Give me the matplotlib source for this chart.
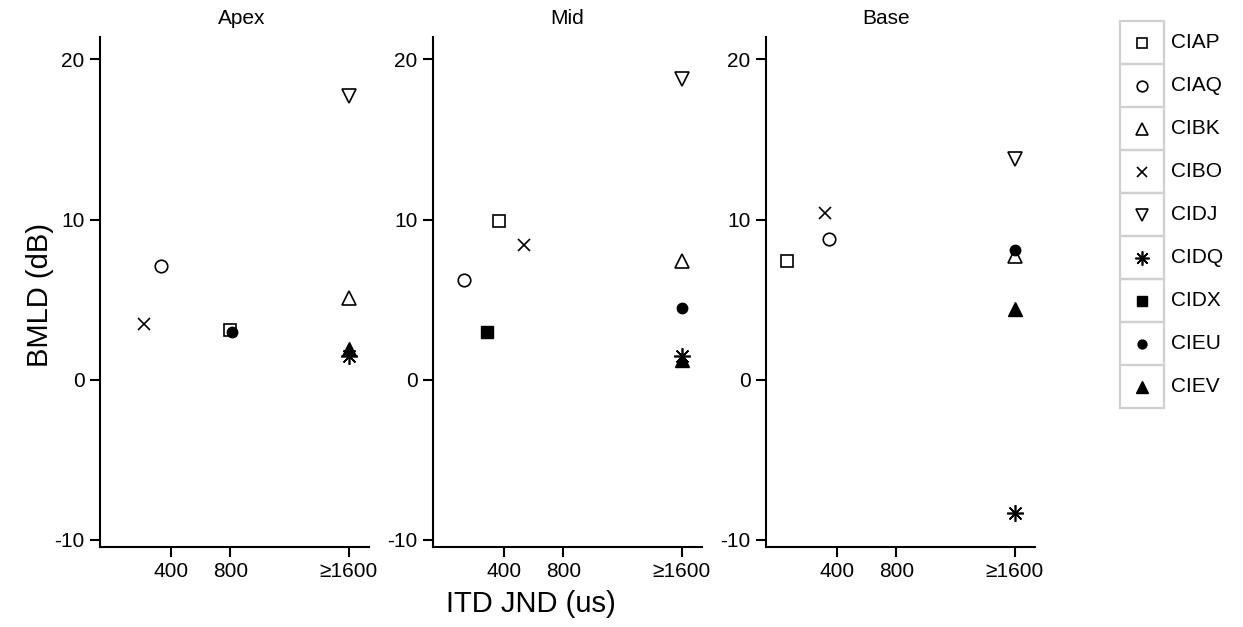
import numpy as np
import matplotlib
matplotlib.use("Agg")
import matplotlib.pyplot as plt
from matplotlib.patches import Rectangle

plt.rcParams['font.family'] = ['Liberation Sans', 'DejaVu Sans']
plt.rcParams['axes.unicode_minus'] = False

# subjects and their marker shapes (R pch 0,1,2,4,6,8,15,16,17)
subjects = ["CIAP", "CIAQ", "CIBK", "CIBO", "CIDJ", "CIDQ", "CIDX", "CIEU", "CIEV"]
markers = ['s', 'o', '^', 'x', 'v', (8, 2, 0), 's', 'o', '^']
filled = [False, False, False, False, False, False, True, True, True]
sizes = [9, 9, 10, 9, 10, 12, 9, 7.5, 10]

regions = ["Apex", "Mid", "Base"]

# ITD JND (us), values >= 1600 are plotted at 1600; nan = no data
apex_itd = [800, 330, 1600, 220, 1600, 1600, np.nan, 812, 1600]
apex_bmld = [3.1, 7.1, 5.1, 3.5, 17.7, 1.5, np.nan, 2.95, 1.9]

mid_itd = [366, 129, 1600, 536, 1600, 1600, 285, 1600, 1600]
mid_bmld = [9.9, 6.2, 7.4, 8.4, 18.8, 1.5, 3.0, 4.5, 1.2]

base_itd = [61, 346, 1600, 319, 1600, 1600, np.nan, 1600, 1600]
base_bmld = [7.4, 8.8, 7.7, 10.4, 13.8, -8.3, np.nan, 8.1, 4.4]

itd_data = [apex_itd, mid_itd, base_itd]
bmld_data = [apex_bmld, mid_bmld, base_bmld]

x_ticks = [400, 800, 1600]
x_ticklabels = ["400", "800", "\u22651600"]
y_ticks = [-10, 0, 10, 20]

W, H = 1243, 627
fig = plt.figure(figsize=(W / 100, H / 100), dpi=100)


def draw_marker(ax, x, y, i, scale=1.0, **kw):
    if filled[i]:
        ax.plot([x], [y], marker=markers[i], ms=sizes[i] * scale, color='black',
                mec='black', ls='none', **kw)
    else:
        ax.plot([x], [y], marker=markers[i], ms=sizes[i] * scale, mfc='none',
                mec='black', mew=1.2, ls='none', **kw)


lefts = [100, 433, 766]
title_x = [242, 567, 886]
for k, region in enumerate(regions):
    ax = fig.add_axes([lefts[k] / W, 1 - 547 / H, 269 / W, 510 / H])
    for i, name in enumerate(subjects):
        x = itd_data[k][i]
        y = bmld_data[k][i]
        if np.isnan(x):
            continue
        draw_marker(ax, x, y, i, clip_on=False)
    ax.set_xlim(-80, 1735)
    ax.set_ylim(-10.45, 21.4)
    ax.set_xticks(x_ticks)
    ax.set_xticklabels(x_ticklabels)
    ax.set_yticks(y_ticks)
    for side in ['top', 'right']:
        ax.spines[side].set_visible(False)
    for side in ['left', 'bottom']:
        ax.spines[side].set_linewidth(1.5)
    ax.tick_params(direction='out', length=7, width=1.5, labelsize=15, pad=4)
    fig.text(title_x[k] / W, 1 - 18 / H, region, ha='center', va='center', fontsize=15)

fig.text(40 / W, 1 - 295 / H, "BMLD (dB)", rotation=90, ha='center', va='center', fontsize=21)
fig.text(531 / W, 1 - 604 / H, "ITD JND (us)", ha='center', va='center', fontsize=21)

# legend keys with grey boxes
lax = fig.add_axes([1120 / W, 1 - 408 / H, 44 / W, 387 / H])
lax.set_xlim(0, 1)
lax.set_ylim(len(subjects), 0)
lax.axis('off')
for i, name in enumerate(subjects):
    lax.add_patch(Rectangle((0, i), 1, 1, fill=False, ec='#d0d0d0', lw=1.6, clip_on=False))
    draw_marker(lax, 0.5, i + 0.5, i, scale=0.85)
    lax.text(1.15, i + 0.5, name, ha='left', va='center', fontsize=15)

fig.savefig("out.png", dpi=100)
